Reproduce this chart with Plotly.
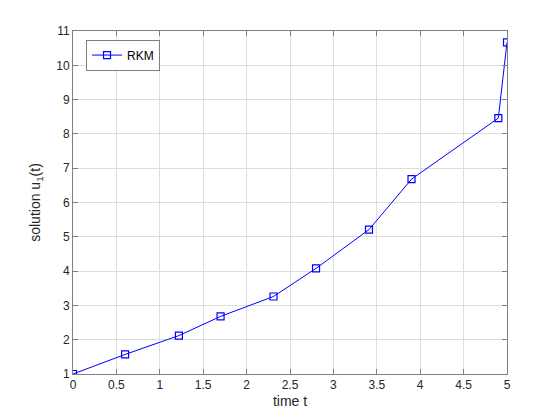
import plotly.graph_objects as go

t = [0, 0.60, 1.22, 1.70, 2.31, 2.80, 3.41, 3.90, 4.90, 5.0]
u1 = [1.0, 1.57, 2.12, 2.68, 3.26, 4.08, 5.21, 6.68, 8.46, 10.67]

x_ticks = [0, 0.5, 1, 1.5, 2, 2.5, 3, 3.5, 4, 4.5, 5]
x_ticktext = ["0", "0.5", "1", "1.5", "2", "2.5", "3", "3.5", "4", "4.5", "5"]
y_ticks = [1, 2, 3, 4, 5, 6, 7, 8, 9, 10, 11]

FONT = "Liberation Sans, Arial, sans-serif"

fig = go.Figure()
fig.add_trace(go.Scatter(
    x=t, y=u1, mode="lines+markers", name="RKM",
    line=dict(color="#0000ff", width=1),
    marker=dict(symbol="square-open", size=7, color="#0000ff", line=dict(width=1.2)),
))

axis_common = dict(
    showline=True, linecolor="#808080", linewidth=1, mirror="ticks",
    ticks="inside", ticklen=5, tickcolor="#808080",
    showgrid=True, gridcolor="#dedede", gridwidth=1,
    zeroline=False,
    tickfont=dict(family=FONT, size=12, color="#262626"),
)

fig.update_layout(
    width=560, height=420,
    margin=dict(l=65, r=61, t=23, b=54),
    paper_bgcolor="white", plot_bgcolor="white",
    showlegend=True,
    legend=dict(x=0.03, y=0.975, xanchor="left", yanchor="top",
                bordercolor="#808080", borderwidth=1, bgcolor="white",
                font=dict(family=FONT, size=12, color="#000000")),
    xaxis=dict(range=[0, 5], tickvals=x_ticks, ticktext=x_ticktext,
               title=dict(text="time t", standoff=4,
                          font=dict(family=FONT, size=14, color="#262626")),
               **axis_common),
    yaxis=dict(range=[1, 11], tickvals=y_ticks,
               title=dict(text="solution u<sub>1</sub>(t)", standoff=12,
                          font=dict(family=FONT, size=14, color="#262626")),
               **axis_common),
)

fig.write_html("out.html")
